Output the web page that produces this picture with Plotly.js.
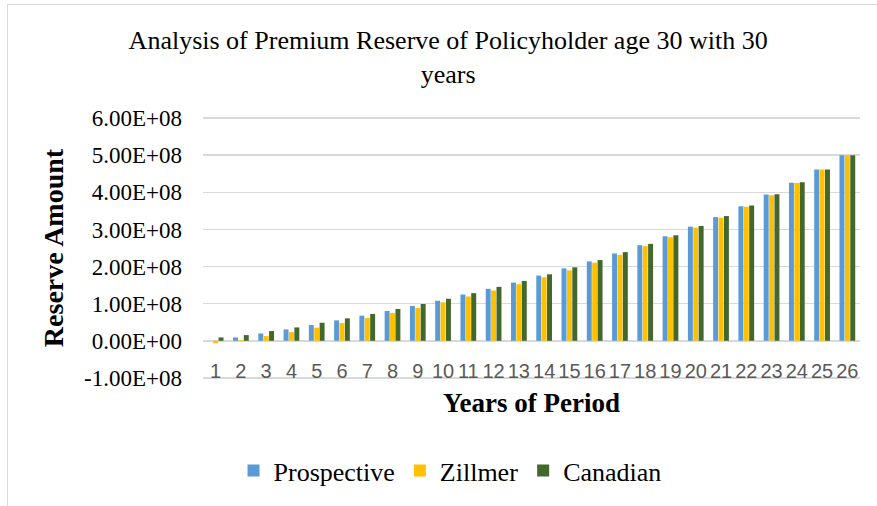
<!DOCTYPE html>
<html>
<head>
<meta charset="utf-8">
<script src="https://cdn.plot.ly/plotly-3.0.1.min.js"></script>
<style>
  html, body { margin: 0; padding: 0; background: #ffffff; overflow: hidden; }
  #wrap { position: relative; width: 877px; height: 506px; }
  #chart { position: absolute; left: 0; top: 0; width: 877px; height: 506px; }
  #frame { position: absolute; left: 7px; top: 4px; width: 900px; height: 520px;
           border-left: 1.5px solid #d9d9d9; border-top: 1.5px solid #d9d9d9; pointer-events: none; }
</style>
</head>
<body>
<div id="wrap">
  <div id="chart"></div>
  <div id="frame"></div>
</div>
<script>
// Categories: years of period
const years = ["1","2","3","4","5","6","7","8","9","10","11","12","13","14","15","16","17","18","19","20","21","22","23","24","25","26"];

// Reserve amounts
const prospective = [0.000e8, 0.090e8, 0.198e8, 0.306e8, 0.423e8, 0.550e8, 0.676e8, 0.802e8, 0.937e8, 1.078e8,
                     1.248e8, 1.399e8, 1.569e8, 1.756e8, 1.952e8, 2.139e8, 2.353e8, 2.576e8, 2.816e8, 3.075e8,
                     3.333e8, 3.627e8, 3.939e8, 4.260e8, 4.617e8, 5.000e8];
const zillmer     = [-0.070e8, 0.020e8, 0.126e8, 0.234e8, 0.351e8, 0.477e8, 0.613e8, 0.748e8, 0.883e8, 1.034e8,
                     1.194e8, 1.355e8, 1.524e8, 1.711e8, 1.898e8, 2.103e8, 2.317e8, 2.549e8, 2.790e8, 3.048e8,
                     3.316e8, 3.610e8, 3.922e8, 4.251e8, 4.617e8, 5.000e8];
const canadian    = [0.090e8, 0.153e8, 0.261e8, 0.360e8, 0.486e8, 0.604e8, 0.721e8, 0.856e8, 0.991e8, 1.132e8,
                     1.283e8, 1.453e8, 1.613e8, 1.791e8, 1.979e8, 2.175e8, 2.389e8, 2.611e8, 2.843e8, 3.093e8,
                     3.360e8, 3.645e8, 3.948e8, 4.269e8, 4.617e8, 5.000e8];

// Y-axis tick values and labels
const yTickVals = [-1e8, 0, 1e8, 2e8, 3e8, 4e8, 5e8, 6e8];
const yTickText = ["-1.00E+08","0.00E+00","1.00E+08","2.00E+08","3.00E+08","4.00E+08","5.00E+08","6.00E+08"];

const serif = "Liberation Serif";
const gridColor = "#d9d9d9";

const traces = [
  { type: "bar", name: "Prospective", x: years, y: prospective, marker: { color: "#5B9BD5" } },
  { type: "bar", name: "Zillmer",     x: years, y: zillmer,     marker: { color: "#FFC000" } },
  { type: "bar", name: "Canadian",    x: years, y: canadian,    marker: { color: "#43682B" } }
];

// Edge gridlines (lowest and highest tick), drawn through the y axis scale
const tMin = yTickVals[0], tMax = yTickVals[yTickVals.length - 1];
const edgeGrid = [tMin, tMax].map(v => ({
  type: "line", xref: "paper", x0: 0, x1: 1, yref: "y", y0: v, y1: v,
  line: { color: gridColor, width: 1.5 }, layer: "below"
}));

const layout = {
  width: 877, height: 506,
  paper_bgcolor: "rgba(0,0,0,0)", plot_bgcolor: "#ffffff",
  font: { family: serif, color: "#000000" },
  margin: { l: 203, r: 17, t: 117, b: 125 },
  barmode: "group", bargap: 0.36, bargroupgap: 0.08,
  shapes: edgeGrid,
  title: {
    text: "Analysis of Premium Reserve of Policyholder age 30 with 30<br>years",
    font: { family: serif, size: 26, color: "#000000" },
    xref: "container", x: 0.511, xanchor: "center",
    yref: "container", y: 0.903, yanchor: "top"
  },
  xaxis: {
    type: "category",
    anchor: "free", position: 0.085,
    showgrid: false, zeroline: false, showline: false,
    ticks: "",
    tickfont: { family: "Liberation Sans", size: 20, color: "#595959" },
    title: { text: "Years of Period", font: { family: serif, size: 27, color: "#000000", weight: "bold" }, standoff: 12 },
    automargin: false
  },
  yaxis: {
    range: [tMin - 0.03e8, tMax + 0.03e8],
    tickvals: yTickVals, ticktext: yTickText,
    showgrid: true, gridcolor: gridColor, gridwidth: 1.5,
    zeroline: true, zerolinecolor: gridColor, zerolinewidth: 1.5,
    showline: false, ticks: "",
    ticklabelstandoff: 20,
    tickfont: { family: serif, size: 23, color: "#000000" },
    title: { text: "Reserve Amount", font: { family: serif, size: 28, color: "#000000", weight: "bold" }, standoff: 12 },
    automargin: false
  },
  showlegend: true,
  legend: {
    orientation: "h", xref: "paper", x: 0.376, xanchor: "center",
    yref: "paper", y: -0.35, yanchor: "middle",
    font: { family: serif, size: 26, color: "#000000" },
    bgcolor: "rgba(0,0,0,0)", itemwidth: 30, traceorder: "normal"
  }
};

Plotly.newPlot("chart", traces, layout, { displayModeBar: false, staticPlot: true });
</script>
</body>
</html>
